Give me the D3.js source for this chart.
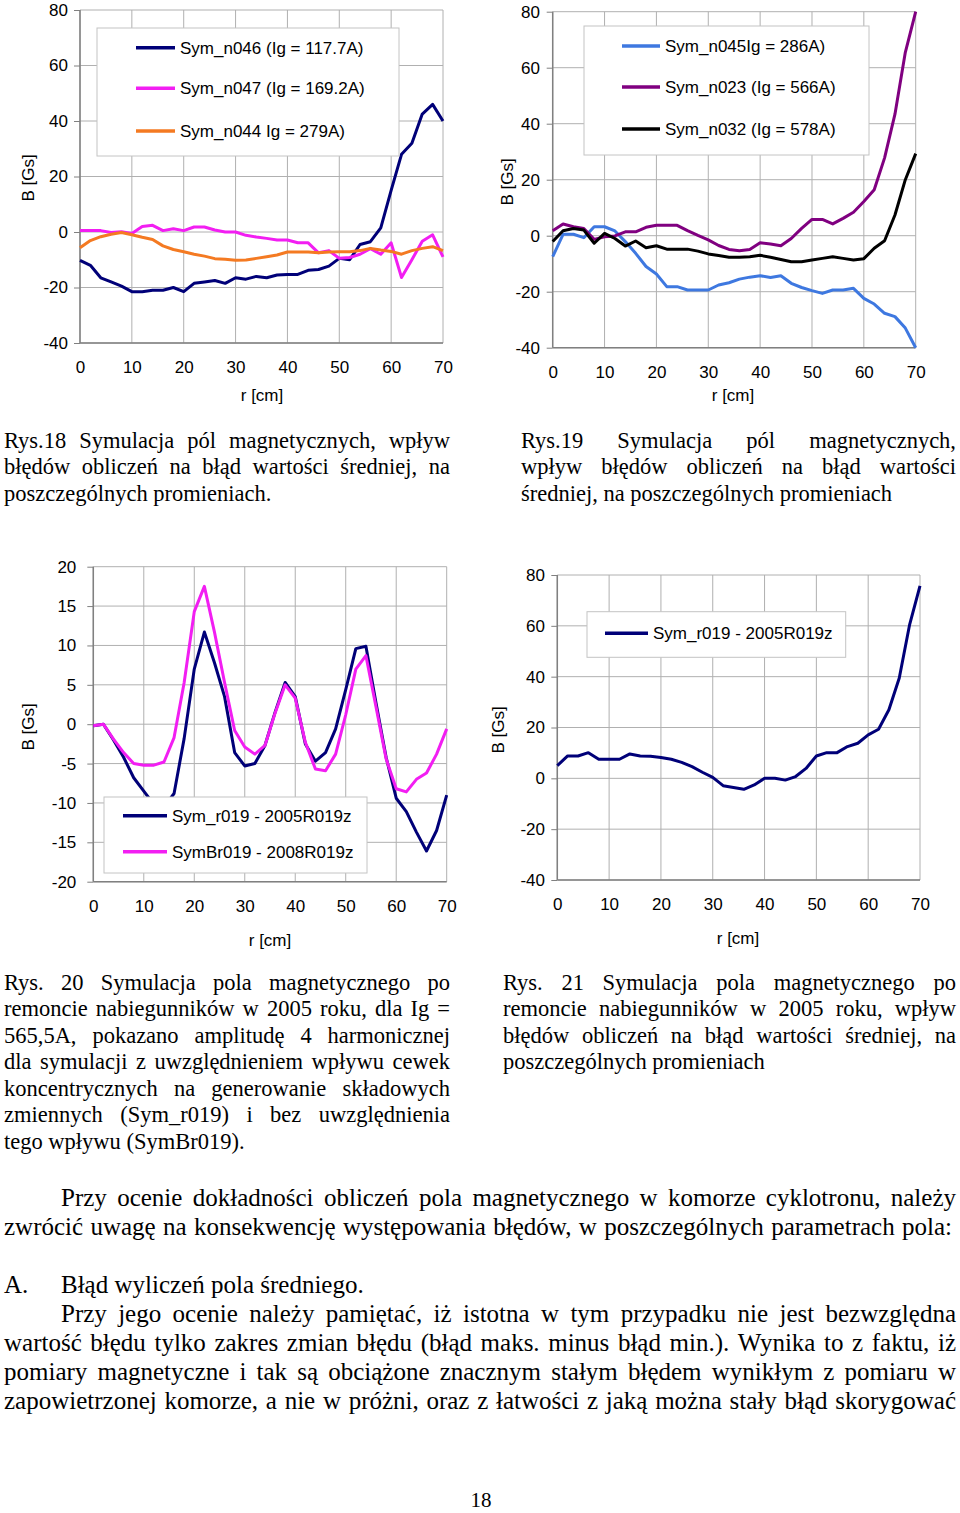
<!DOCTYPE html>
<html><head><meta charset="utf-8">
<script src="https://cdn.jsdelivr.net/npm/d3@7"></script>
<style>body{margin:0;background:#fff} svg{display:block}</style>
</head><body>
<svg id="page" width="960" height="1513"></svg>
<script>
// ---------- DATA ----------
const radius = [0,2,4,6,8,10,12,14,16,18,20,22,24,26,28,30,32,34,36,38,40,42,44,46,48,50,52,54,56,58,60,62,64,66,68,70];
const xTickLabels = [0,10,20,30,40,50,60,70];
const yTicksWide = [-40,-20,0,20,40,60,80];
const yTicksNarrow = [-20,-15,-10,-5,0,5,10,15,20];

// Rys.18
const symN046 = [-10.2,-12,-16.5,-18,-19.5,-21.5,-21.5,-21,-21,-20,-21.5,-18.5,-18,-17.5,-18.5,-16.5,-17,-16,-16.5,-15.5,-15.3,-15.3,-13.8,-13.5,-12.3,-9.5,-10,-4.5,-3.5,1.5,15,28,32,42.5,46,40];
const symN047 = [0.5,0.5,0.5,-0.2,0.1,-0.5,2,2.4,0.5,1.2,0.5,1.8,1.8,0.7,0,0,-1.2,-1.8,-2.3,-2.9,-2.9,-3.9,-3.9,-7.5,-6.7,-9.5,-9.2,-8,-6,-8,-3.9,-16.4,-10,-3.3,-1,-9];
const symN044 = [-5.7,-3.1,-1.7,-0.8,-0.2,-1,-1.9,-2.7,-5,-6.3,-7.1,-8,-8.7,-9.6,-9.8,-10.2,-10.1,-9.5,-8.9,-8.3,-7.2,-7.2,-7.2,-7.5,-7.2,-7.1,-7.1,-6.7,-5.9,-6.5,-7,-8,-6.7,-5.9,-5.3,-6.7];
// Rys.19
const symN045 = [-7.5,0.5,0.5,-0.7,3.2,3.2,1.7,-2.1,-6.3,-11,-13.7,-18.2,-18.2,-19.4,-19.4,-19.4,-17.6,-16.8,-15.5,-14.8,-14.3,-14.9,-14.3,-17,-18.5,-19.6,-20.6,-19.4,-19.4,-18.8,-22.4,-24.4,-27.7,-28.9,-33,-40];
const symN023 = [1.8,4.2,3.2,2.6,-1.3,-0.4,-0.1,1.4,1.4,3,3.7,3.7,3.7,1.8,0.1,-1.5,-3.5,-4.9,-5.4,-4.9,-2.5,-3,-3.6,-1,2.6,5.8,5.8,4.2,6.2,8.4,12.2,16.4,27.8,43.4,65.5,80];
const symN032 = [-2.1,1.8,2.6,2,-2.7,0.8,-1,-3.7,-1.9,-4.3,-3.6,-4.8,-4.8,-4.8,-5.5,-6.5,-7.1,-7.7,-7.7,-7.5,-7,-7.7,-8.5,-9.3,-9.3,-8.7,-8.1,-7.5,-8.1,-8.7,-8.2,-4.5,-1.8,7.4,20,29.3];
// Rys.20
const symR019 = [-0.2,0,-2,-4.2,-6.8,-8.5,-10.2,-10.5,-8.8,-1.8,7,11.7,7.8,3.5,-3.6,-5.3,-5,-2.7,1.5,5.3,3.5,-2.5,-4.7,-3.6,-0.6,4.4,9.6,9.9,2.7,-4.2,-9.4,-11.1,-13.7,-16.1,-13.5,-9];
const symBr019 = [-0.2,0,-1.9,-3.6,-5,-5.2,-5.2,-4.8,-1.7,5.3,14.3,17.5,11.7,5.3,-0.8,-2.9,-3.8,-2.7,1.4,5,3.3,-2.3,-5.7,-5.9,-3.8,1.2,7,8.7,2.2,-4.4,-8.2,-8.6,-7,-6.2,-3.8,-0.6];
// Rys.21
const symR019b = [5,8.8,8.8,10.1,7.5,7.5,7.5,9.6,8.8,8.7,8.2,7.5,6.3,4.6,2.4,0.4,-2.9,-3.6,-4.3,-2.6,0,0,-0.7,0.7,3.9,8.8,10.1,10.1,12.5,13.8,17.1,19.3,27,39.5,60.5,75.7];

const legend18 = ["Sym_n046 (Ig = 117.7A)","Sym_n047 (Ig = 169.2A)","Sym_n044 Ig = 279A)"];
const legend19 = ["Sym_n045Ig = 286A)","Sym_n023 (Ig = 566A)","Sym_n032 (Ig = 578A)"];
const legend20 = ["Sym_r019 - 2005R019z","SymBr019 - 2008R019z"];
const legend21 = ["Sym_r019 - 2005R019z"];

// ---------- DRAW ----------
const svg = d3.select('#page');
const SANS = "'Liberation Sans', Arial, sans-serif";
const SERIF = "'Liberation Serif', 'Times New Roman', serif";
const NAVY = "#000078", MAGENTA = "#f21ef2", ORANGE = "#f47a22", BLUE = "#3e78e0", PURPLE = "#800080", BLACK = "#000000";
const fmt = d => String(d);

function drawChart(c) {
  const g = svg.append('g');
  const x = d3.scaleLinear().domain([0,70]).range([c.left, c.right]);
  const y = d3.scaleLinear().domain([c.yTicks[0], c.yTicks[c.yTicks.length-1]]).range([c.bottom, c.top]);
  // grid
  g.append('g').selectAll('line').data(xTickLabels).join('line')
    .attr('x1', d => x(d)).attr('x2', d => x(d)).attr('y1', c.top).attr('y2', c.bottom)
    .attr('stroke', '#b0b0b0').attr('stroke-width', 1);
  g.append('g').selectAll('line').data(c.yTicks).join('line')
    .attr('x1', c.left).attr('x2', c.right).attr('y1', d => y(d)).attr('y2', d => y(d))
    .attr('stroke', '#b0b0b0').attr('stroke-width', 1);
  // axes
  const ya = g.append('g').attr('transform', `translate(${c.left},0)`)
    .call(d3.axisLeft(y).tickValues(c.yTicks).tickFormat(fmt).tickSizeInner(6).tickSizeOuter(0).tickPadding(c.yPad));
  const xa = g.append('g').attr('transform', `translate(0,${c.bottom})`)
    .call(d3.axisBottom(x).tickValues(xTickLabels).tickFormat(fmt).tickSizeInner(0).tickSizeOuter(0).tickPadding(18));
  [ya, xa].forEach(a => {
    a.select('.domain').remove();
    a.selectAll('line').attr('stroke', '#808080');
    a.selectAll('text').attr('font-family', SANS).attr('font-size', 17).attr('fill', '#000');
  });
  g.append('line').attr('x1', c.left).attr('x2', c.left).attr('y1', c.top).attr('y2', c.bottom).attr('stroke', '#808080').attr('stroke-width', 1.5);
  g.append('line').attr('x1', c.left).attr('x2', c.right).attr('y1', c.bottom).attr('y2', c.bottom).attr('stroke', '#808080').attr('stroke-width', 1.5);
  // series
  const line = d3.line().x((d, i) => x(radius[i])).y(d => y(d));
  c.series.forEach(s => {
    g.append('path').datum(s.values).attr('d', line).attr('fill', 'none')
      .attr('stroke', s.color).attr('stroke-width', 3).attr('stroke-linejoin', 'round');
  });
  // legend
  const L = c.legend;
  g.append('rect').attr('x', L.x0).attr('y', L.y0).attr('width', L.x1 - L.x0).attr('height', L.y1 - L.y0)
    .attr('fill', '#fff').attr('stroke', '#c4c4c4').attr('stroke-width', 1);
  c.series.forEach((s, i) => {
    g.append('line').attr('x1', L.lx0).attr('x2', L.lx1).attr('y1', L.ys[i]).attr('y2', L.ys[i])
      .attr('stroke', s.color).attr('stroke-width', 3.5);
    g.append('text').attr('x', L.tx).attr('y', L.ys[i]).attr('dy', '0.35em')
      .attr('font-family', SANS).attr('font-size', 17).text(L.labels[i]);
  });
  // titles
  g.append('text').attr('x', c.xt[0]).attr('y', c.xt[1]).attr('dy', '0.35em').attr('text-anchor', 'middle')
    .attr('font-family', SANS).attr('font-size', 17).text('r [cm]');
  g.append('text').attr('transform', `translate(${c.yt[0]},${c.yt[1]}) rotate(-90)`).attr('dy', '0.35em')
    .attr('text-anchor', 'middle').attr('font-family', SANS).attr('font-size', 17).text('B [Gs]');
}

drawChart({left: 80, right: 443, top: 10, bottom: 343, yTicks: yTicksWide, yPad: 6,
  series: [{values: symN046, color: NAVY}, {values: symN047, color: MAGENTA}, {values: symN044, color: ORANGE}],
  legend: {x0: 97, y0: 28, x1: 399, y1: 156, lx0: 136, lx1: 175, tx: 180, ys: [47.7, 88.3, 131], labels: legend18},
  xt: [262, 395], yt: [28, 178]});

drawChart({left: 552.7, right: 915.7, top: 11.7, bottom: 347.7, yTicks: yTicksWide, yPad: 6.7,
  series: [{values: symN045, color: BLUE}, {values: symN023, color: PURPLE}, {values: symN032, color: BLACK}],
  legend: {x0: 584, y0: 26, x1: 869, y1: 155, lx0: 622, lx1: 660, tx: 665, ys: [46, 87, 129], labels: legend19},
  xt: [733, 395], yt: [507, 182]});

drawChart({left: 93.3, right: 446.7, top: 566.7, bottom: 881.7, yTicks: yTicksNarrow, yPad: 11,
  series: [{values: symR019, color: NAVY}, {values: symBr019, color: MAGENTA}],
  legend: {x0: 104, y0: 797, x1: 367, y1: 873, lx0: 123, lx1: 167, tx: 172, ys: [815.7, 851.7], labels: legend20},
  xt: [270, 940], yt: [28, 727]});

drawChart({left: 557.3, right: 920, top: 575, bottom: 880, yTicks: yTicksWide, yPad: 6.3,
  series: [{values: symR019b, color: NAVY}],
  legend: {x0: 587, y0: 611.7, x1: 845.7, y1: 657.3, lx0: 605, lx1: 648, tx: 653, ys: [633.3], labels: legend21},
  xt: [738, 938], yt: [498, 730]});

// ---------- TEXT ----------
const textG = svg.append('g').attr('font-family', SERIF).attr('fill', '#000');
function textLine(str, x0, x1, yb, size, justify) {
  const t = textG.append('text').attr('x', x0).attr('y', yb).attr('font-size', size).text(str);
  if (!justify) return;
  const w = x1 - x0;
  const natural = t.node().getComputedTextLength();
  if (natural >= w) { t.attr('textLength', w).attr('lengthAdjust', 'spacingAndGlyphs'); return; }
  t.remove();
  const words = str.split(' ');
  const widths = words.map(wd => {
    const tt = textG.append('text').attr('font-size', size).text(wd);
    const v = tt.node().getComputedTextLength(); tt.remove(); return v;
  });
  const gap = (w - d3.sum(widths)) / (words.length - 1);
  let cx = x0;
  words.forEach((wd, i) => {
    textG.append('text').attr('x', cx).attr('y', yb).attr('font-size', size).text(wd);
    cx += widths[i] + gap;
  });
}
function block(lines, x0, x1, yb0, lh, size) {
  lines.forEach((l, i) => textLine(l, x0, x1, yb0 + i * lh, size, i < lines.length - 1));
}
block(["Rys.18 Symulacja pól magnetycznych, wpływ",
       "błędów obliczeń na błąd wartości średniej, na",
       "poszczególnych promieniach."], 4, 450, 447.5, 26.6, 22.5);
block(["Rys.19 Symulacja pól magnetycznych,",
       "wpływ błędów obliczeń na błąd wartości",
       "średniej, na poszczególnych promieniach"], 521, 956, 447.5, 26.6, 22.5);
block(["Rys. 20 Symulacja pola magnetycznego po",
       "remoncie nabiegunników w 2005 roku, dla Ig =",
       "565,5A, pokazano amplitudę 4 harmonicznej",
       "dla symulacji z uwzględnieniem wpływu cewek",
       "koncentrycznych na generowanie składowych",
       "zmiennych (Sym_r019) i bez uwzględnienia",
       "tego wpływu (SymBr019)."], 4, 450, 989.5, 26.5, 22.5);
block(["Rys. 21 Symulacja pola magnetycznego po",
       "remoncie nabiegunników w 2005 roku, wpływ",
       "błędów obliczeń na błąd wartości średniej, na",
       "poszczególnych promieniach"], 503, 956, 989.5, 26.5, 22.5);

const BODY = 25;
textLine("Przy ocenie dokładności obliczeń pola magnetycznego w komorze cyklotronu, należy", 61, 956, 1206, BODY, true);
textLine("zwrócić uwagę na konsekwencję występowania błędów, w poszczególnych parametrach pola:", 4, 952, 1235, BODY, true);
textLine("A.", 4, 40, 1293, BODY, false);
textLine("Błąd wyliczeń pola średniego.", 61, 400, 1293, BODY, false);
textLine("Przy jego ocenie należy pamiętać, iż istotna w tym przypadku nie jest bezwzględna", 61, 956, 1322, BODY, true);
textLine("wartość błędu tylko zakres zmian błędu (błąd maks. minus błąd min.). Wynika to z faktu, iż", 4, 956, 1351, BODY, true);
textLine("pomiary magnetyczne i tak są obciążone znacznym stałym błędem wynikłym z pomiaru w", 4, 956, 1380, BODY, true);
textLine("zapowietrzonej komorze, a nie w próżni, oraz z łatwości z jaką można stały błąd skorygować", 4, 956, 1409, BODY, true);
textG.append('text').attr('x', 481).attr('y', 1507).attr('text-anchor', 'middle').attr('font-size', 21).text('18');
</script>
</body></html>
